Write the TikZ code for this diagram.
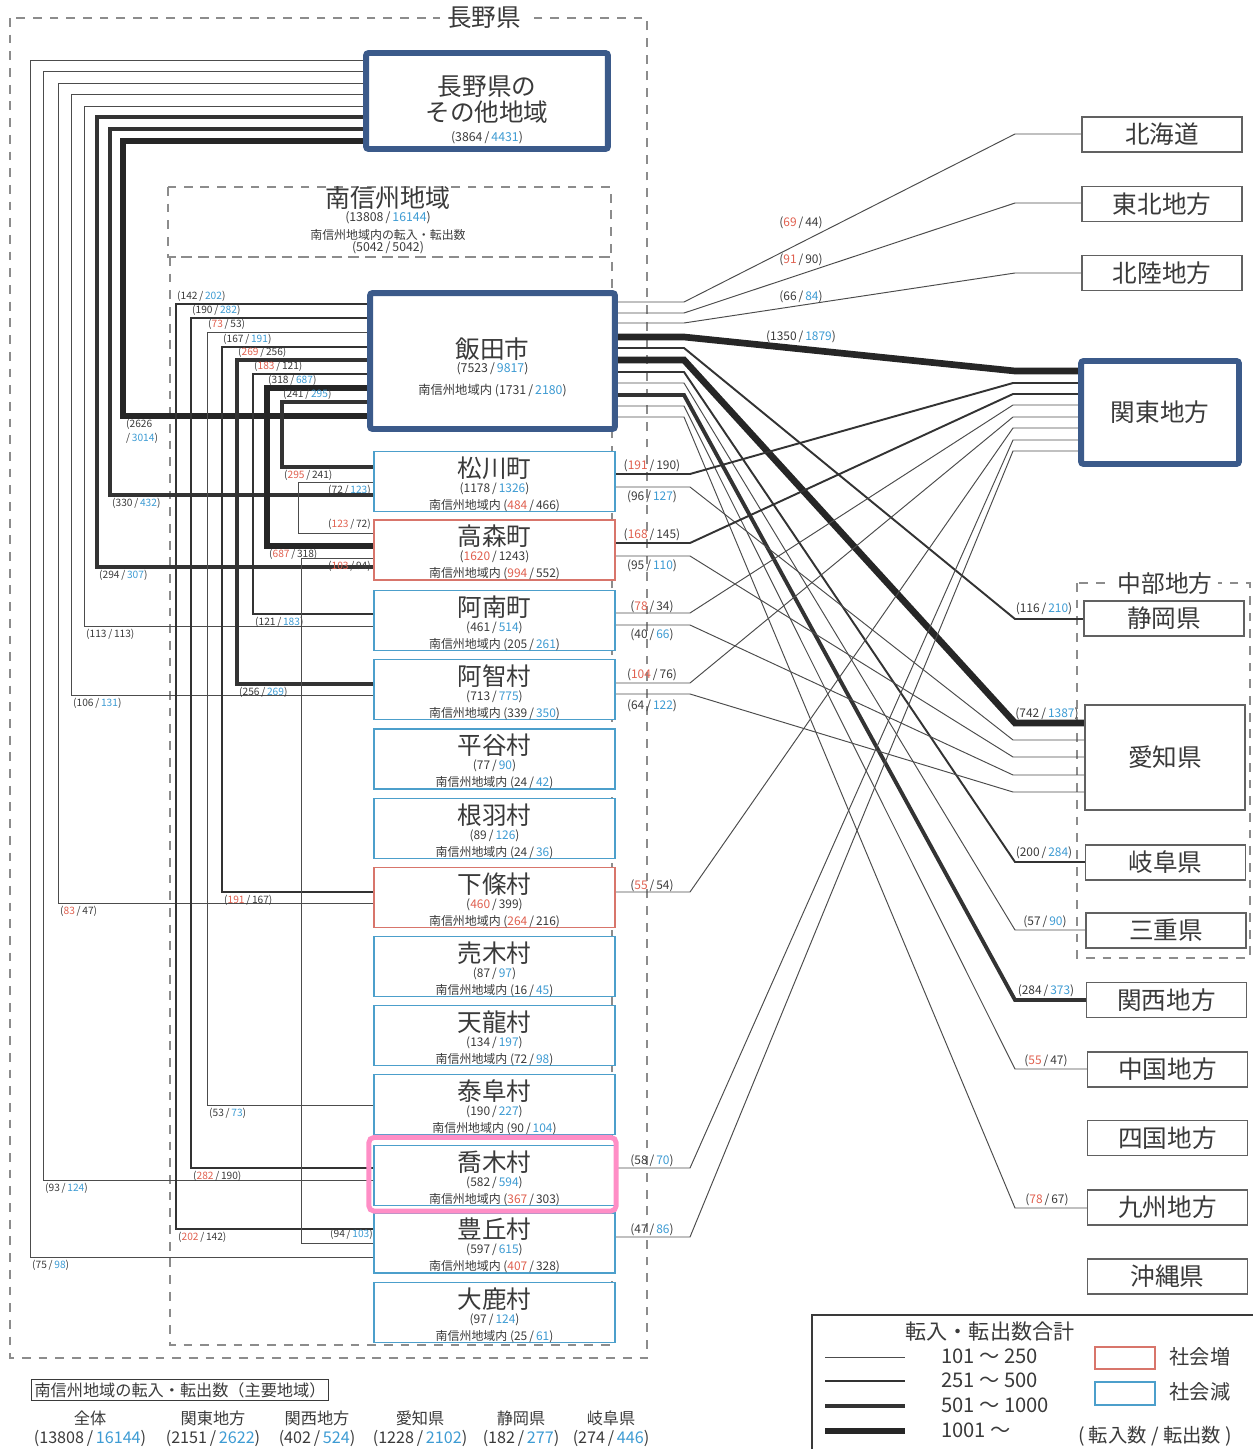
\documentclass[tikz,border=0pt]{standalone}
\usepackage{fontspec}
\setmainfont{Noto Sans CJK JP}
\usetikzlibrary{positioning}
\definecolor{Naga_Navy}{HTML}{3B5A8A}
\definecolor{Naga_Sky}{HTML}{4C9FCB}
\definecolor{Naga_Rose}{HTML}{D8756B}
\definecolor{Naga_Pink}{HTML}{FF8EC6}
\definecolor{Naga_Ink}{HTML}{3A3A3A}
\definecolor{Num_Red}{HTML}{E0604F}
\definecolor{Num_Blue}{HTML}{3D9BD3}
\pgfdeclarelayer{bg}
\pgfsetlayers{bg,main}
% (in / out), the larger one coloured
\newcommand{\io}[2]{(\ifnum#1>#2 \textcolor{Num_Red}{#1}\else #1\fi\,/\,\ifnum#2>#1 \textcolor{Num_Blue}{#2}\else #2\fi)}

\begin{document}
\begin{tikzpicture}[x=0.02cm, y=-0.02cm,
  every node/.append style={text=Naga_Ink},
  town/.style={draw=#1, fill=white, line width=0.8pt, minimum width=4.82cm, minimum height=1.14cm, inner sep=0pt, align=center, font=\fontsize{6.8}{10}\selectfont},
  bigbox/.style={draw=Naga_Navy, fill=white, line width=3.4pt, rounded corners=1.5pt, inner sep=0pt, align=center},
  dest/.style={draw=Naga_Ink!80, fill=white, line width=0.7pt, minimum width=3.2cm, minimum height=0.7cm, inner sep=0pt, font=\fontsize{14}{14}\selectfont},
  region/.style={draw=black!45, line width=0.6pt, dash pattern=on 5pt off 4.5pt},
  l1/.style={draw=black!70, line width=0.55pt},
  l2/.style={draw=black!80, line width=1.1pt},
  l3/.style={draw=black!80, line width=2.2pt},
  l4/.style={draw=black!85, line width=3.8pt},
  tag/.style={font=\fontsize{5.8}{6.5}\selectfont, inner sep=0.5pt},
  rtag/.style={font=\fontsize{6.8}{7}\selectfont, inner sep=0.5pt},
]
\useasboundingbox (0,0) rectangle (1253,1449);

% --- Frames ---
\begin{pgfonlayer}{bg}
\draw[region] (10,18) rectangle (647,1358);
\draw[region] (168,187) rectangle (611,257);
\draw[region] (170,257) rectangle (612,1345);
\draw[region] (1077,583) rectangle (1250,958);
\end{pgfonlayer}
\node[fill=white, inner sep=4pt, font=\fontsize{14}{14}\selectfont] (nagano) at (484,18) {長野県};
\node[fill=white, inner sep=3pt, font=\fontsize{13.5}{13.5}\selectfont] (chubu) at (1165,583) {中部地方};

% --- Minami-Shinshu header ---
\node[font=\fontsize{14.2}{14.2}\selectfont] (minami) at (388,198) {南信州地域};
\node[font=\fontsize{7}{7}\selectfont] (minamiN) at (388,218) {\io{13808}{16144}};
\node[font=\fontsize{6.8}{7}\selectfont] (minamiI) at (388,235) {南信州地域内の転入・転出数};
\node[font=\fontsize{7}{7}\selectfont] (minamiIN) at (388,248) {\io{5042}{5042}};

% --- Main boxes ---
\node[bigbox, minimum width=4.84cm, minimum height=1.92cm, font=\fontsize{14}{14.5}\selectfont] (sonota) at (487,101) {\rule{0pt}{21.8pt}長野県の\\その他地域\\[-2.8pt]{\fontsize{7}{7}\selectfont\io{3864}{4431}}};
\node[bigbox, minimum width=4.9cm, minimum height=2.72cm, font=\fontsize{7}{11}\selectfont] (iida) at (492.5,361) {\rule{0pt}{19.5pt}{\fontsize{14}{14}\selectfont 飯田市}\\[-3pt]\io{7523}{9817}\\[1.5pt]南信州地域内 \io{1731}{2180}};

% --- Towns and villages ---
\foreach \nm/\yy/\ti/\ia/\ib/\ja/\jb/\cl in {
  matsukawa/481.5/松川町/1178/1326/484/466/Naga_Sky,
  takamori/550/高森町/1620/1243/994/552/Naga_Rose,
  anan/620.5/阿南町/461/514/205/261/Naga_Sky,
  achi/689.5/阿智村/713/775/339/350/Naga_Sky,
  hiraya/759/平谷村/77/90/24/42/Naga_Sky,
  neba/828.5/根羽村/89/126/24/36/Naga_Sky,
  shimojo/897.5/下條村/460/399/264/216/Naga_Rose,
  urugi/966.5/売木村/87/97/16/45/Naga_Sky,
  tenryu/1035.5/天龍村/134/197/72/98/Naga_Sky,
  yasuoka/1104.5/泰阜村/190/227/90/104/Naga_Sky,
  takagi/1175.5/喬木村/582/594/367/303/Naga_Sky,
  toyooka/1243/豊丘村/597/615/407/328/Naga_Sky,
  oshika/1312.5/大鹿村/97/124/25/61/Naga_Sky}
  \node[town=\cl] (\nm) at (494.5,\yy) {\rule{0pt}{14.5pt}{\fontsize{14}{14}\selectfont\ti}\\[-1.5pt]\io{\ia}{\ib}\\[-0.3pt]南信州地域内 \io{\ja}{\jb}};
\draw[Naga_Pink, line width=2.8pt, rounded corners=3pt] ([xshift=-0.09cm,yshift=0.15cm]takagi.north west) rectangle ([xshift=0.01cm,yshift=-0.1cm]takagi.south east);

% --- Destinations ---
\foreach \nm/\xx/\yy/\ti in {hokkaido/1162/134.5/北海道, tohoku/1162/204/東北地方, hokuriku/1162/273/北陸地方,
  shizuoka/1164/618.5/静岡県, gifu/1165.5/862.5/岐阜県, mie/1166/930.5/三重県, kansai/1166.5/1000/関西地方,
  chugoku/1167.5/1069.5/中国地方, shikoku/1167.5/1138/四国地方, kyushu/1167.5/1207.5/九州地方, okinawa/1167.5/1276.5/沖縄県}
  \node[dest] (\nm) at (\xx,\yy) {\ti};
\node[dest, minimum height=2.1cm] (aichi) at (1165,757.5) {愛知県};
\node[bigbox, minimum width=3.16cm, minimum height=2.06cm, font=\fontsize{14}{14}\selectfont] (kanto) at (1160,412.5) {関東地方};

\begin{pgfonlayer}{bg}
% --- Other Nagano -> towns ---
\foreach \dst/\xx/\ya/\yb/\lw/\na/\nb in {toyooka/30/60/1257/l1/75/98, takagi/43/71/1180/l1/93/124,
  shimojo/58/83/903/l1/83/47, achi/71/94/695/l1/106/131, anan/84/106/626/l1/113/113,
  takamori/97/117/567/l3/294/307, matsukawa/110/129/495/l3/330/432}
{ \draw[\lw] (sonota.west |- 0,\ya) -| (\xx,\yb) -- (\dst.west |- 0,\yb);
  \node[tag, anchor=north west] (s-\dst) at (\xx+1,\yb+2) {\io{\na}{\nb}}; }
\draw[l4] (sonota.west |- 0,141) -| (123,416) -- (iida.west |- 0,416);
\node[tag, anchor=north west, align=left] (s-iida) at (125,418) {(2626\\[1.5pt]/\,\textcolor{Num_Blue}{3014})};

% --- Iida -> towns ---
\foreach \dst/\xx/\ya/\yb/\lw/\na/\nb in {toyooka/176/304/1229/l2/142/202, takagi/191/318/1168/l2/190/282,
  yasuoka/207/332/1105/l1/73/53, shimojo/222/347/892/l2/167/191, achi/237/360/684/l3/269/256,
  anan/253/374/614/l2/183/121, takamori/267/388/546/l4/318/687, matsukawa/282/402/467/l3/241/295}
{ \draw[\lw] (iida.west |- 0,\ya) -| (\xx,\yb) -- (\dst.west |- 0,\yb);
  \node[tag, anchor=south west] (i-\dst) at (\xx,\ya-1) {\io{\na}{\nb}};
  \node[tag, anchor=north west] (e-\dst) at (\xx+1,\yb+2) {\io{\nb}{\na}}; }

% --- Town <-> town ---
\draw[l1] (matsukawa.west |- 0,482) -| (298,533) -- (takamori.west |- 0,533);
\draw[l1] (takamori.west |- 0,558) -| (301,1243) -- (toyooka.west |- 0,1243);
\node[tag, anchor=north east] (mt1) at (372,484) {\io{72}{123}};
\node[tag, anchor=south east] (mt2) at (372,531) {\io{123}{72}};
\node[tag, anchor=north east] (tt1) at (372,560) {\io{103}{94}};
\node[tag, anchor=south east] (tt2) at (374,1241) {\io{94}{103}};

% --- Iida -> other regions ---
\foreach \dst/\ya/\yb/\lw in {hokkaido/302/134/l1, tohoku/313/203/l1, hokuriku/323/273/l1, kanto/337/371/l4,
  shizuoka/348/619/l2, aichi/360/723/l4, gifu/372/862/l2, mie/383/930/l1, kansai/395/1000/l3,
  chugoku/406/1069/l1, kyushu/417/1208/l1}
  \draw[\lw] (iida.east |- 0,\ya) -- (684,\ya) -- (1015,\yb) -- (\dst.west |- 0,\yb);

% --- Towns -> Kanto / Aichi ---
\foreach \src/\ya/\dst/\yb/\lw in {matsukawa/474/kanto/383/l2, matsukawa/487/aichi/740/l1,
  takamori/543/kanto/394/l2, takamori/556/aichi/757/l1, anan/613/kanto/405/l1, anan/625/aichi/775/l1,
  achi/683/kanto/417/l1, achi/694/aichi/792/l1, shimojo/892/kanto/428/l1,
  takagi/1168/kanto/440/l1, toyooka/1237/kanto/451/l1}
  \draw[\lw] (\src.east |- 0,\ya) -- (690,\ya) -- (1013,\yb) -- (\dst.west |- 0,\yb);
\end{pgfonlayer}

% --- Right-hand figures ---
\foreach \xx/\yy/\na/\nb in {801/223/69/44, 801/260/91/90, 801/297/66/84, 801/337/1350/1879,
  1044/609/116/210, 1047/714/742/1387, 1044/853/200/284, 1045/922/57/90, 1046/991/284/373,
  1046/1061/55/47, 1047/1200/78/67,
  652/466/191/190, 652/497/96/127, 652/535/168/145, 652/566/95/110, 652/607/78/34, 652/635/40/66,
  652/675/104/76, 652/706/64/122, 652/886/55/54, 652/1161/58/70, 652/1230/47/86}
  \node[rtag] (r-\xx-\yy) at (\xx,\yy) {\io{\na}{\nb}};

% --- Summary (main areas) ---
\node[draw=Naga_Ink, line width=0.6pt, inner sep=1.5pt, font=\fontsize{9.2}{10}\selectfont] (sumbox) at (180,1390) {南信州地域の転入・転出数（主要地域）};
\foreach \xx/\ti/\na/\nb in {90/全体/13808/16144, 213/関東地方/2151/2622, 317/関西地方/402/524,
  420/愛知県/1228/2102, 521/静岡県/182/277, 611/岐阜県/274/446}
{ \node[font=\fontsize{9.2}{10}\selectfont] (sum-\xx) at (\xx,1418) {\ti};
  \node[font=\fontsize{9.2}{10}\selectfont] (sumn-\xx) at (\xx,1438) {\io{\na}{\nb}}; }

% --- Legend ---
\draw[Naga_Ink, line width=0.7pt] (1253,1315) -- (812,1315) -- (812,1449);
\node[font=\fontsize{12}{12}\selectfont] (legtitle) at (990,1331) {転入・転出数合計};
\foreach \yy/\lw/\tx in {1357/l1/101 〜 250, 1381/l2/251 〜 500, 1406/l3/501 〜 1000, 1431/l4/1001 〜}
{ \draw[\lw] (825,\yy) -- (905,\yy);
  \node[anchor=west, font=\fontsize{11.5}{12}\selectfont] (leg-\yy) at (935,\yy-1) {\tx}; }
\node[draw=Naga_Rose, line width=0.8pt, minimum width=1.2cm, minimum height=0.44cm] (legup) at (1125,1358) {};
\node[draw=Naga_Sky, line width=0.8pt, minimum width=1.2cm, minimum height=0.46cm] (legdown) at (1125,1393.5) {};
\node[font=\fontsize{11.5}{12}\selectfont] (leguptx) at (1200,1357) {社会増};
\node[font=\fontsize{11.5}{12}\selectfont] (legdowntx) at (1200,1392) {社会減};
\node[font=\fontsize{11}{12}\selectfont] (legunit) at (1155,1436) {( 転入数 / 転出数 )};
\end{tikzpicture}
\end{document}
